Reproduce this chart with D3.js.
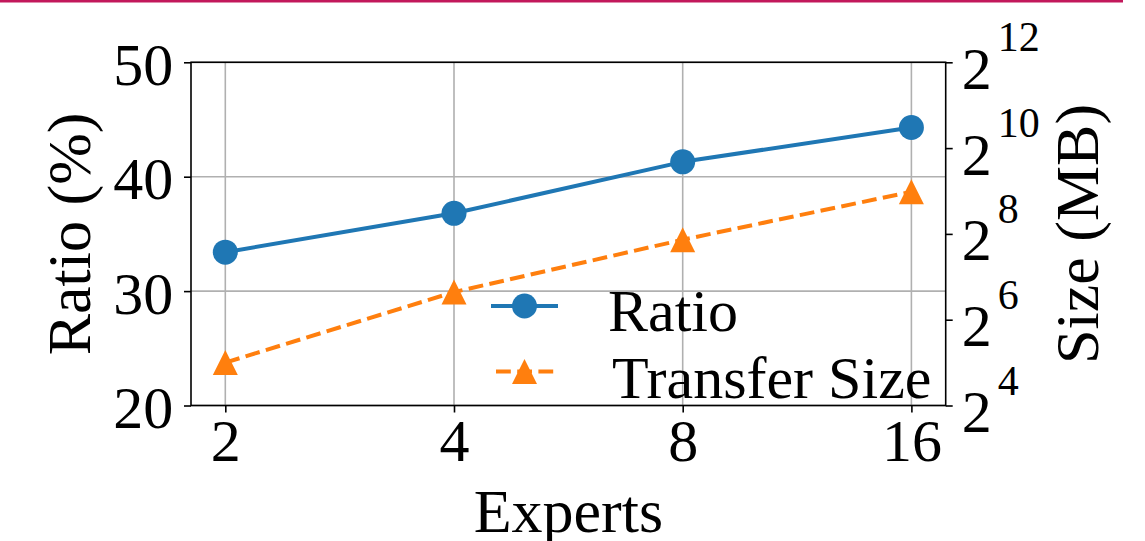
<!DOCTYPE html>
<html>
<head>
<meta charset="utf-8">
<script src="https://cdn.jsdelivr.net/npm/d3@7"></script>
<style>
  html, body { margin: 0; padding: 0; background: #fff; }
  svg { display: block; }
  text { font-family: "Liberation Serif", "Times New Roman", serif; fill: #000; }
</style>
</head>
<body>
<svg id="chart" width="1145" height="541"></svg>
<script>
// Experts vs. ratio (left axis) and transfer size in MB (right axis, log2)
const experts = [2, 4, 8, 16];
const ratio = [33.4, 36.8, 41.3, 44.3];
const transferSize = [32, 100, 233, 506];
const ratioTicks = [20, 30, 40, 50];
const sizeExponents = [4, 6, 8, 10, 12];
const seriesNames = ["Ratio", "Transfer Size"];

const W = 1145, H = 541;
const plot = { left: 191, right: 945.7, top: 62.3, bottom: 405.5 };
const blue = "#1f77b4", orange = "#ff7f0e";
const tickFont = 60, labelFont = 62;

const svg = d3.select("#chart");
svg.append("rect").attr("width", W).attr("height", H).attr("fill", "#fff");
// thin accent rule along the top edge
svg.append("rect").attr("x", 0).attr("y", 0).attr("width", 1123).attr("height", 2.5).attr("fill", "#c2185b");

// log2 x scale with 5% margins either side of the data range
const lx0 = Math.log2(experts[0]), lx1 = Math.log2(experts[experts.length - 1]);
const pad = (lx1 - lx0) * 0.05;
const x = d3.scaleLog().base(2)
  .domain([Math.pow(2, lx0 - pad), Math.pow(2, lx1 + pad)])
  .range([plot.left, plot.right]);
const yL = d3.scaleLinear().domain([20, 50]).range([plot.bottom, plot.top]);
const yR = d3.scaleLog().base(2)
  .domain([Math.pow(2, sizeExponents[0]), Math.pow(2, sizeExponents[sizeExponents.length - 1])])
  .range([plot.bottom, plot.top]);

// grid
const grid = svg.append("g").attr("stroke", "#b0b0b0").attr("stroke-width", 1.6);
experts.forEach(e => grid.append("line")
  .attr("x1", x(e)).attr("x2", x(e)).attr("y1", plot.top).attr("y2", plot.bottom));
ratioTicks.forEach(t => grid.append("line")
  .attr("x1", plot.left).attr("x2", plot.right).attr("y1", yL(t)).attr("y2", yL(t)));

// axes
const xAxis = svg.append("g").attr("transform", `translate(0,${plot.bottom})`)
  .call(d3.axisBottom(x).tickValues(experts).tickFormat(d3.format("d")).tickSize(7).tickPadding(0));
xAxis.selectAll(".tick text").attr("dy", null).attr("y", 55.5).style("font-size", tickFont + "px");

const yAxisL = svg.append("g").attr("transform", `translate(${plot.left},0)`)
  .call(d3.axisLeft(yL).tickValues(ratioTicks).tickSize(7).tickPadding(0));
yAxisL.selectAll(".tick text").attr("dy", null).attr("x", -17.7).attr("y", 22)
  .style("font-size", tickFont + "px");

const yAxisR = svg.append("g").attr("transform", `translate(${plot.right},0)`)
  .call(d3.axisRight(yR).tickValues(sizeExponents.map(p => Math.pow(2, p))).tickSize(7).tickPadding(0));
yAxisR.selectAll(".tick text").each(function(d) {
  const t = d3.select(this).text(null).attr("dy", null).attr("x", 0).attr("y", 0)
    .attr("text-anchor", "start");
  t.append("tspan").attr("x", 16).attr("y", 26).style("font-size", tickFont + "px").text("2");
  t.append("tspan").attr("x", 52).attr("y", -11.5).style("font-size", "42px").text(String(Math.round(Math.log2(d))));
});

[xAxis, yAxisL, yAxisR].forEach(a => {
  a.select(".domain").remove();
  a.selectAll(".tick line").attr("stroke", "#000").attr("stroke-width", 1.6);
  a.attr("font-family", null).attr("font-size", null);
});

// frame
svg.append("rect").attr("x", plot.left).attr("y", plot.top)
  .attr("width", plot.right - plot.left).attr("height", plot.bottom - plot.top)
  .attr("fill", "none").attr("stroke", "#000").attr("stroke-width", 1.6);

// axis labels
svg.append("text").attr("transform", `translate(${(plot.left + plot.right) / 2},532)`)
  .attr("text-anchor", "middle").style("font-size", labelFont + "px").text("Experts");
svg.append("text").attr("transform", `translate(90,${(plot.top + plot.bottom) / 2}) rotate(-90)`)
  .attr("text-anchor", "middle").style("font-size", labelFont + "px").text("Ratio (%)");
svg.append("text").attr("transform", `translate(1098,${(plot.top + plot.bottom) / 2}) rotate(-90)`)
  .attr("text-anchor", "middle").style("font-size", labelFont + "px").text("Size (MB)");

function triPath(size) {
  // upward triangle spanning `size` px wide and tall, centred on its bbox
  const h = size / 2;
  return `M0,${-h}L${h},${h}L${-h},${h}Z`;
}

// Ratio series
const ratioPts = experts.map((e, i) => [x(e), yL(ratio[i])]);
svg.append("path").attr("d", d3.line()(ratioPts)).attr("fill", "none")
  .attr("stroke", blue).attr("stroke-width", 4).attr("stroke-linejoin", "round");
svg.append("g").selectAll("circle").data(ratioPts).join("circle")
  .attr("cx", d => d[0]).attr("cy", d => d[1]).attr("r", 12.5).attr("fill", blue);

// Transfer size series
const sizePts = experts.map((e, i) => [x(e), yR(transferSize[i])]);
svg.append("path").attr("d", d3.line()(sizePts)).attr("fill", "none")
  .attr("stroke", orange).attr("stroke-width", 4).attr("stroke-dasharray", "14.8,6.4");
svg.append("g").selectAll("path").data(sizePts).join("path")
  .attr("transform", d => `translate(${d[0]},${d[1]})`).attr("d", triPath(25)).attr("fill", orange);

// legend (no frame)
const lg = svg.append("g");
const lx = 491, lw = 67;
lg.append("line").attr("x1", lx).attr("x2", lx + lw).attr("y1", 306).attr("y2", 306)
  .attr("stroke", blue).attr("stroke-width", 4);
lg.append("circle").attr("cx", lx + lw / 2).attr("cy", 306).attr("r", 12.5).attr("fill", blue);
lg.append("text").attr("x", 608).attr("y", 331).style("font-size", tickFont + "px").text(seriesNames[0]);
lg.append("line").attr("x1", lx).attr("x2", lx + lw).attr("y1", 371.5).attr("y2", 371.5)
  .attr("stroke", orange).attr("stroke-width", 4)
  .attr("stroke-dasharray", "14.8,6.4").attr("stroke-dashoffset", 16.2);
lg.append("path").attr("transform", `translate(${lx + lw / 2},371.5)`).attr("d", triPath(25)).attr("fill", orange);
lg.append("text").attr("x", 612).attr("y", 397.5).style("font-size", tickFont + "px").text(seriesNames[1]);
</script>
</body>
</html>
